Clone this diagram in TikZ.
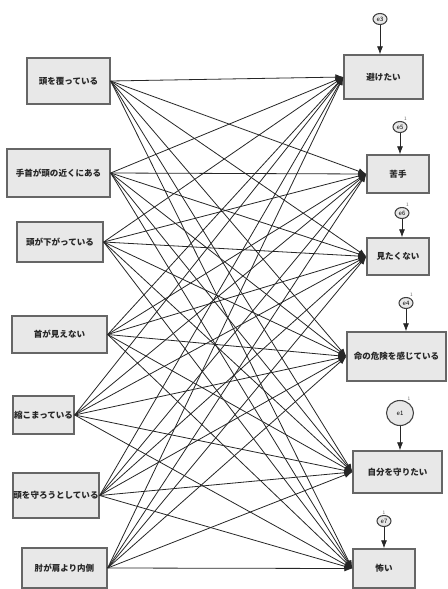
\documentclass[tikz,border=0pt]{standalone}
\usepackage{fontspec}
\setmainfont{Noto Sans CJK JP}
\usetikzlibrary{arrows.meta,shapes.geometric}
\begin{document}
\begin{tikzpicture}[x=0.75pt,y=-0.75pt,
  var/.style={draw=black!60,line width=1pt,fill=black!9,inner sep=0pt,font=\fontsize{6.4}{7}\selectfont\bfseries,text=black!85},
  err/.style={ellipse,draw=black!75,line width=0.8pt,fill=black!9,inner sep=0pt,minimum width=10.5pt,minimum height=8.25pt,font=\fontsize{4.5}{5}\selectfont},
  one/.style={font=\fontsize{3.5}{4}\selectfont,text=black!60,inner sep=0.5pt},
  reg/.style={draw=black!85,line width=0.6pt,-{Latex[length=6pt,width=4.5pt]}}]
\useasboundingbox (0,0) rectangle (447,589);
% observed causes
\node[var,minimum width=62.25pt,minimum height=34.5pt] (L1) at (68.5,81) {頭を覆っている};
\node[var,minimum width=77.25pt,minimum height=36pt] (L2) at (58.5,173) {手首が頭の近くにある};
\node[var,minimum width=64.5pt,minimum height=30pt] (L3) at (60,242) {頭が下がっている};
\node[var,minimum width=71.25pt,minimum height=27.75pt] (L4) at (59.5,334.5) {首が見えない};
\node[var,minimum width=45.75pt,minimum height=28.5pt] (L5) at (43.5,415) {縮こまっている};
\node[var,minimum width=64.5pt,minimum height=33.75pt] (L6) at (56,495.5) {頭を守ろうとしている};
\node[var,minimum width=63.75pt,minimum height=30pt] (L7) at (64.5,568) {肘が肩より内側};
% observed effects
\node[var,minimum width=59.25pt,minimum height=33pt] (R1) at (383.5,77) {避けたい};
\node[var,minimum width=46.5pt,minimum height=28.5pt] (R2) at (398,174) {苦手};
\node[var,minimum width=46.5pt,minimum height=27.75pt] (R3) at (398,256.5) {見たくない};
\node[var,minimum width=74.25pt,minimum height=36.75pt] (R4) at (396.5,356.5) {命の危険を感じている};
\node[var,minimum width=66.75pt,minimum height=31.5pt] (R5) at (397.5,472) {自分を守りたい};
\node[var,minimum width=46.5pt,minimum height=29.25pt] (R6) at (384,568.5) {怖い};
% error terms
\node[err] (e3) at (380,19) {e3};
\node[err,label={[one]60:1}] (e5) at (400,127) {e5};
\node[err,label={[one]60:1}] (e6) at (402,213) {e6};
\node[err,label={[one]60:1}] (e4) at (406,303) {e4};
\node[err,minimum width=20.25pt,minimum height=18.75pt,label={[one]60:1}] (e1) at (400,413) {e1};
\node[err,label={[one]90:1}] (e7) at (384,521) {e7};
\foreach \i in {1,...,7}
  \foreach \j in {1,...,6}
    \draw[reg] (L\i.east) -- (R\j.west);
\draw[reg] (e3) -- (e3 |- R1.north);
\draw[reg] (e5) -- (e5 |- R2.north);
\draw[reg] (e6) -- (e6 |- R3.north);
\draw[reg] (e4) -- (e4 |- R4.north);
\draw[reg] (e1) -- (e1 |- R5.north);
\draw[reg] (e7) -- (e7 |- R6.north);
\end{tikzpicture}
\end{document}
